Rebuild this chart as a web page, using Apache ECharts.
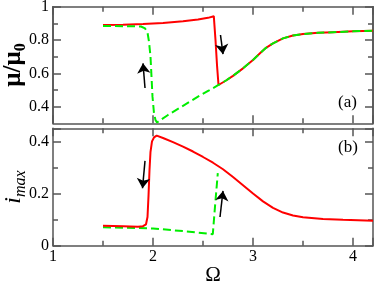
<!DOCTYPE html>
<html>
<head>
<meta charset="utf-8">
<script src="https://cdn.jsdelivr.net/npm/echarts@6/dist/echarts.min.js"></script>
<style>html,body{margin:0;padding:0;background:#fff}#c{width:374px;height:282px}</style>
</head>
<body>
<div id="c"></div>
<script>
// Top panel: mu/mu0 vs Omega
const redMu = [[1.5,0.89],[1.7,0.892],[1.9,0.896],[2.1,0.902],[2.3,0.912],[2.45,0.923],[2.55,0.933],[2.608,0.943],[2.625,0.80],[2.64,0.65],[2.655,0.53],
  [2.73,0.557],[2.8,0.585],[2.9,0.63],[3.0,0.68],[3.07,0.72],[3.13,0.753],[3.2,0.78],[3.3,0.81],[3.4,0.827],[3.5,0.836],[3.65,0.843],[3.8,0.847],[4.0,0.852],[4.2,0.856]];
const greenMu = [[1.5,0.884],[1.75,0.883],[1.88,0.881],[1.92,0.87],[1.945,0.845],[1.96,0.79],[1.975,0.70],[1.985,0.58],[1.995,0.46],[2.01,0.36],[2.025,0.32],[2.04,0.305],
  [2.15,0.35],[2.3,0.405],[2.45,0.46],[2.56,0.497],[2.655,0.53],
  [2.73,0.557],[2.8,0.585],[2.9,0.63],[3.0,0.68],[3.07,0.72],[3.13,0.753],[3.2,0.78],[3.3,0.81],[3.4,0.827],[3.5,0.836],[3.65,0.843],[3.8,0.847],[4.0,0.852],[4.2,0.856]];
// Bottom panel: i_max vs Omega
const redI = [[1.5,0.076],[1.7,0.075],[1.85,0.073],[1.9,0.075],[1.93,0.082],[1.945,0.11],[1.955,0.19],[1.965,0.29],[1.975,0.36],[1.99,0.40],[2.01,0.415],[2.037,0.422],
  [2.1,0.413],[2.2,0.397],[2.3,0.38],[2.4,0.361],[2.5,0.34],[2.6,0.318],[2.7,0.293],[2.8,0.263],[2.9,0.232],[3.0,0.200],[3.1,0.17],[3.2,0.145],[3.3,0.127],[3.4,0.116],[3.5,0.109],[3.7,0.102],[3.9,0.099],[4.2,0.096]];
const greenI = [[1.5,0.071],[2.0,0.066],[2.3,0.056],[2.598,0.044],[2.62,0.15],[2.648,0.278]];
// Arrows (data coordinates)
const arrowsTop = [[[1.92,0.512],[1.90,0.66]], [[2.675,0.83],[2.70,0.715]]];
const arrowsBottom = [[[1.92,0.325],[1.895,0.22]], [[2.67,0.11],[2.70,0.21]]];
const muTicks = [0.4,0.6,0.8,1];
const muMinor = [0.5,0.7,0.9];

const FONT = 'Liberation Serif';
const AX = '#555';
const G0 = {left:53, right:1, top:6.7, height:116.6, outerBoundsMode:'none', containLabel:false};
const G1 = {left:53, right:1, top:128.3, height:117.4, outerBoundsMode:'none', containLabel:false};

function xAx(grid, pos, labels, name){
  return {type:'value', gridIndex:grid, position:pos, min:1, max:4.2, interval:1,
    axisLine:{show:true, onZero:false, lineStyle:{color:AX, width:1.5}},
    axisTick:{show:true, inside:true, length:8, lineStyle:{color:AX, width:1.5}},
    minorTick:{show:true, splitNumber:2, length:5, lineStyle:{color:AX, width:1.5}},
    splitLine:{show:false}, minorSplitLine:{show:false},
    axisLabel:{show:labels, showMaxLabel:false, margin:3, fontFamily:FONT, fontSize:16, color:'#000'},
    name: name||'', nameLocation:'middle', nameGap:19, nameMoveOverlap:false,
    nameTextStyle:{fontFamily:FONT, fontSize:21, color:'#000'}};
}
function yMu(pos, custom, len, labels, name){
  return {type:'value', gridIndex:0, position:pos, min:0.3, max:1,
    axisLine:{show:true, onZero:false, lineStyle:{color:AX, width:1.5}},
    axisTick:{show:true, inside:true, length:len, customValues:custom, lineStyle:{color:AX, width:1.5}},
    splitLine:{show:false},
    axisLabel:{show:labels, customValues:muTicks, margin:4, fontFamily:FONT, fontSize:16, color:'#000'},
    name:name||'', nameLocation:'middle', nameGap:24, nameRotate:90, nameMoveOverlap:false,
    nameTextStyle:{fontFamily:FONT, color:'#000', rich:{
      a:{fontFamily:FONT, fontSize:25, fontWeight:'bold', lineHeight:30, verticalAlign:'middle'},
      s:{fontFamily:FONT, fontSize:16, fontWeight:'bold', lineHeight:30, verticalAlign:'bottom'}}}};
}
function yI(pos, labels, name){
  return {type:'value', gridIndex:1, position:pos, min:0, max:0.45, interval:0.2,
    axisLine:{show:true, onZero:false, lineStyle:{color:AX, width:1.5}},
    axisTick:{show:true, inside:true, length:8, lineStyle:{color:AX, width:1.5}},
    minorTick:{show:true, splitNumber:2, length:5, lineStyle:{color:AX, width:1.5}},
    splitLine:{show:false}, minorSplitLine:{show:false},
    axisLabel:{show:labels, showMaxLabel:false, margin:4, fontFamily:FONT, fontSize:16, color:'#000'},
    name:name||'', nameLocation:'middle', nameGap:24, nameRotate:90, nameMoveOverlap:false,
    nameTextStyle:{fontFamily:FONT, color:'#000', rich:{
      i:{fontFamily:FONT, fontSize:24, fontStyle:'italic', lineHeight:30, verticalAlign:'middle'},
      s:{fontFamily:FONT, fontSize:16, fontStyle:'italic', lineHeight:30, verticalAlign:'bottom'}}}};
}

const chart = echarts.init(document.getElementById('c'), null, {renderer:'canvas'});
const arrowStyle = {color:'#000', width:1.5, curveness:0, opacity:1};
const option = {
  animation:false,
  grid:[G0, G1],
  xAxis:[xAx(0,'bottom',false), xAx(0,'top',false), xAx(1,'bottom',true,'Ω'), xAx(1,'top',false)],
  yAxis:[yMu('left', muTicks, 8, true, '{a|μ/μ}{s|0}'), yMu('right', muTicks, 8, false),
         yMu('left', muMinor, 5, false), yMu('right', muMinor, 5, false),
         yI('left', true, '{i|i}{s|max}'), yI('right', false)],
  series:[
    {type:'line', xAxisIndex:0, yAxisIndex:0, data:redMu, showSymbol:false, symbol:'none', z:3,
      lineStyle:{color:'#ff0000', width:2}},
    {type:'line', xAxisIndex:0, yAxisIndex:0, data:greenMu, showSymbol:false, symbol:'none', z:4,
      lineStyle:{color:'#00ee00', width:2, type:[8,4]}},
    {type:'line', xAxisIndex:2, yAxisIndex:4, data:greenI, showSymbol:false, symbol:'none', z:3,
      lineStyle:{color:'#00ee00', width:2, type:[8,4]}},
    {type:'line', xAxisIndex:2, yAxisIndex:4, data:redI, showSymbol:false, symbol:'none', z:4,
      lineStyle:{color:'#ff0000', width:2}},
    {type:'lines', coordinateSystem:'cartesian2d', xAxisIndex:0, yAxisIndex:0, z:5,
      symbol:['none','arrow'], symbolSize:[6,10],
      itemStyle:{color:'#000', opacity:1},
      lineStyle:arrowStyle,
      data:arrowsTop.map(c=>({coords:c}))},
    {type:'lines', coordinateSystem:'cartesian2d', xAxisIndex:2, yAxisIndex:4, z:5,
      symbol:['none','arrow'], symbolSize:[6,10],
      itemStyle:{color:'#000', opacity:1},
      lineStyle:arrowStyle,
      data:arrowsBottom.map(c=>({coords:c}))}
  ],
  graphic:[
    {type:'text', left:338, top:94, style:{text:'(a)', font:'17px "Liberation Serif"', fill:'#000'}},
    {type:'text', left:338, top:139, style:{text:'(b)', font:'17px "Liberation Serif"', fill:'#000'}}
  ]
};
chart.setOption(option);
</script>
</body>
</html>
